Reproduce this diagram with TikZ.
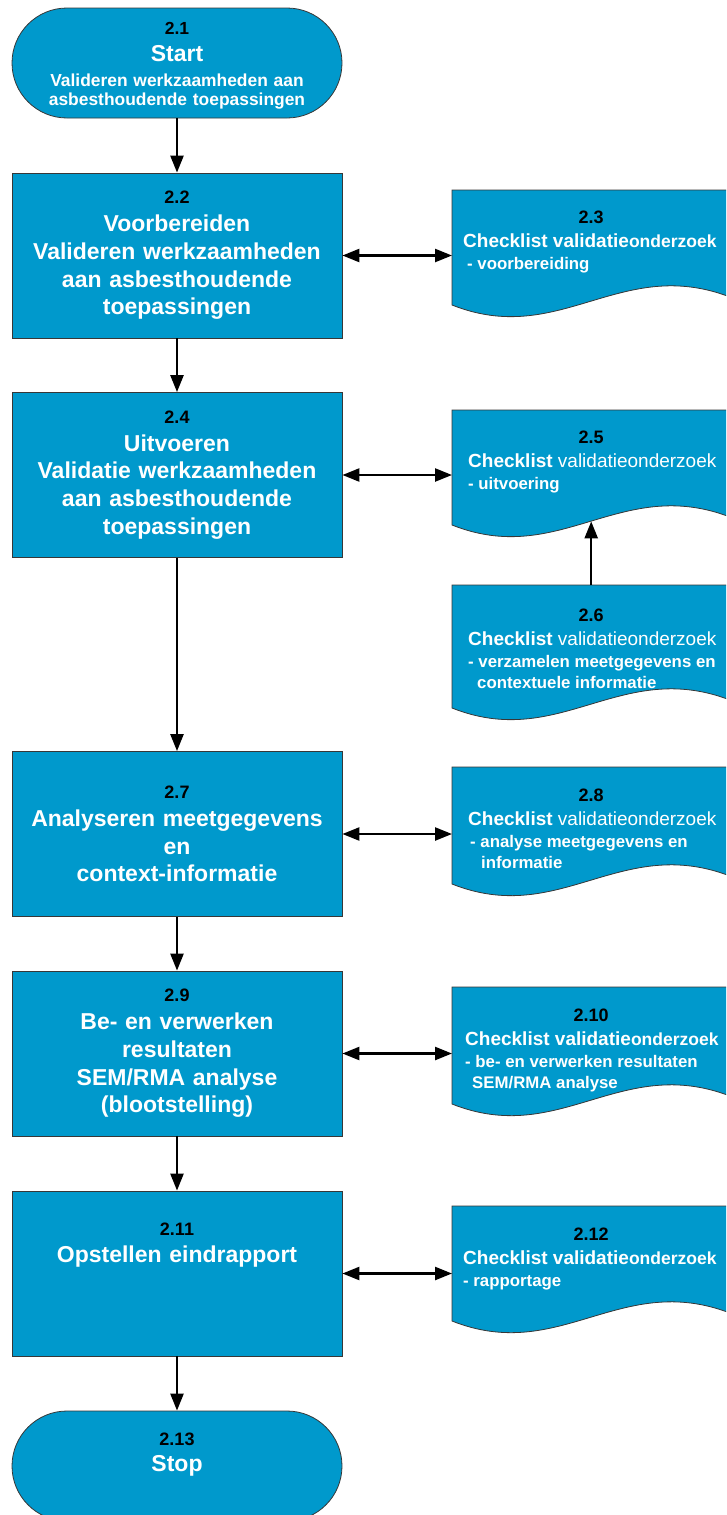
\documentclass[tikz,border=0pt]{standalone}
\usepackage{fontspec}
\setmainfont{Liberation Sans}
\usetikzlibrary{arrows.meta,calc,shapes.misc}

\definecolor{flowblue}{RGB}{0,153,204}
\definecolor{edgegray}{RGB}{55,55,55}

% step number shown in black above the step title
\newcommand{\nr}[1]{{\color{black}\fontsize{18}{27.7}\selectfont #1}}
% smaller bold word used in some checklist titles
\newcommand{\onderz}{{\fontsize{17.5}{21.5}\selectfont onderzoek}}
% text block of a checklist document: #1 number, #2 left indent, #3 first baseline,
% #4 title, #5 detail lines
\newcommand{\doctext}[5]{%
  \parbox[c][115pt][t]{264pt}{\fontsize{16.8}{21}\selectfont\raggedright\leftskip=#2\relax
    \rule{0pt}{#3}\hspace*{-#2}\makebox[264pt][c]{\color{black}\fontsize{18}{21}\selectfont #1}\\[3pt]%
    {\fontsize{19}{21}\selectfont #4}\\[0.5pt]#5}}
% checklist document: #1 name, #2 x, #3 y of the top edge, #4 extra height, #5 text
\newcommand{\docat}[5]{%
  \filldraw[docshape] (#2,#3) -- ($(#2,#3)+(278,0)$) -- ($(#2,#3)+(278,107+#4)$)
    .. controls ($(#2,#3)+(168,65+#4)$) and ($(#2,#3)+(108,158+#4)$) ..
    coordinate[pos=0.5] (#1-wave) ($(#2,#3)+(0,115+#4)$) -- cycle;
  \node[docbox] (#1) at (#2,#3) {#5};}

\begin{document}
\begin{tikzpicture}[x=1pt,y=-1pt,
  proc/.style={rectangle, fill=flowblue, draw=edgegray, line width=0.8pt,
    minimum width=330pt, minimum height=165pt, text width=320pt, align=center,
    text=white, inner sep=0pt, font=\bfseries\fontsize{23}{27.7}\selectfont},
  term/.style={rounded rectangle, fill=flowblue, draw=edgegray, line width=0.8pt,
    minimum width=330pt, minimum height=110pt, text width=270pt, align=center,
    text=white, inner sep=0pt},
  docshape/.style={fill=flowblue, draw=edgegray, line width=0.8pt},
  docbox/.style={anchor=north west, inner xsep=7pt, inner ysep=0pt, text=white,
    font=\bfseries},
  tip/.style={Triangle[length=17pt,width=13pt]},
  arr/.style={line width=2.4pt, -{Triangle[length=17pt,width=13pt]}},
  biarr/.style={line width=2.4pt, {Triangle[length=17pt,width=13pt]}-{Triangle[length=17pt,width=13pt]}}]

\useasboundingbox (0,0) rectangle (726,1515);
\clip (0,0) rectangle (726,1515);

% main column
\node[term, font=\bfseries\fontsize{17.4}{19.5}\selectfont] (start) at (177,63) {%
  \rule{0pt}{17.5pt}{\color{black}\fontsize{17.5}{19.5}\selectfont 2.1}\\[7.2pt]%
  {\fontsize{23}{19.5}\selectfont Start}\\[5.5pt]%
  Valideren werkzaamheden aan\\asbesthoudende toepassingen};

\node[proc] (b22) at (177,255.5) {\nr{2.2}\\Voorbereiden\\Valideren werkzaamheden\\aan asbesthoudende\\toepassingen};
\node[proc] (b24) at (177,475) {\nr{2.4}\\Uitvoeren\\Validatie werkzaamheden\\aan asbesthoudende\\toepassingen};
\node[proc] (b27) at (177,834) {\nr{2.7}\\Analyseren meetgegevens\\en\\context-informatie};
\node[proc] (b29) at (177,1053.5) {\nr{2.9}\\Be- en verwerken\\resultaten\\SEM/RMA analyse\\(blootstelling)};
\node[proc] (b211) at (177,1273.5) {\nr{2.11}\\Opstellen eindrapport\\[34pt]\mbox{}};

\node[term, font=\bfseries\fontsize{23}{26}\selectfont] (stop) at (177,1466) {%
  {\color{black}\fontsize{18}{26}\selectfont 2.13}\\Stop\\[2pt]\mbox{}};

% checklist documents
\docat{d23}{452}{190}{0}{\doctext{2.3}{4pt}{33.5pt}{Checklist validatie\onderz}{\hspace*{4pt}- voorbereiding}}
\docat{d25}{452}{410}{0}{\doctext{2.5}{9pt}{33.5pt}{Checklist {\mdseries validatieonderzoek}}{- uitvoering}}
\docat{d26}{452}{585}{8}{\doctext{2.6}{9pt}{36.5pt}{Checklist {\mdseries validatieonderzoek}}{- verzamelen meetgegevens en\\\hspace*{9pt}contextuele informatie}}
\docat{d28}{452}{767}{2}{\doctext{2.8}{9pt}{34.5pt}{Checklist {\mdseries validatieonderzoek}}{\hspace*{2pt}- analyse meetgegevens en\\\hspace*{13pt}informatie}}
\docat{d210}{452}{987}{2}{\doctext{2.10}{6pt}{34.5pt}{Checklist validatie\onderz}{- be- en verwerken resultaten\\\hspace*{7pt}SEM/RMA analyse}}
\docat{d212}{452}{1206}{0}{\doctext{2.12}{4pt}{34.5pt}{Checklist validatie\onderz}{- rapportage}}

% flow
\draw[arr] (start.south) -- (b22.north);
\draw[arr] (b22.south) -- (b24.north);
\draw[arr] (b24.south) -- (b27.north);
\draw[arr] (b27.south) -- (b29.north);
\draw[arr] (b29.south) -- (b211.north);
\draw[arr] (b211.south) -- (stop.north);

% links to the checklists
\draw[biarr] (b22.east) -- (b22.east -| d23.west);
\draw[biarr] (b24.east) -- (b24.east -| d25.west);
\draw[biarr] (b27.east) -- (b27.east -| d28.west);
\draw[biarr] (b29.east) -- (b29.east -| d210.west);
\draw[biarr] (b211.east) -- (b211.east -| d212.west);
\draw[arr] (d26.north) -- (d26.north |- d25-wave);
\end{tikzpicture}
\end{document}
